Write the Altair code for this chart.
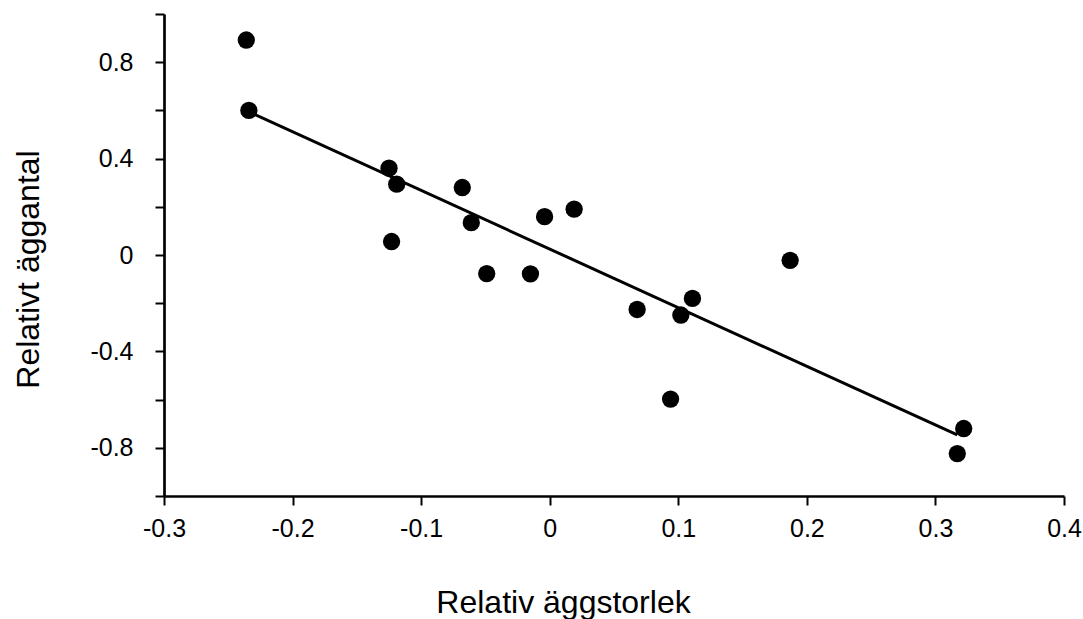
import altair as alt
import pandas as pd

# Relative egg size (x) and relative egg number (y)
rel_size = [-0.236, -0.234, -0.125, -0.119, -0.123, -0.068, -0.061, -0.049, -0.015,
            -0.004, 0.019, 0.068, 0.102, 0.111, 0.094, 0.187, 0.322, 0.317]
rel_count = [0.892, 0.600, 0.360, 0.294, 0.056, 0.280, 0.134, -0.077, -0.078,
             0.159, 0.190, -0.226, -0.249, -0.180, -0.598, -0.022, -0.720, -0.824]

x_ticks = [-0.3, -0.2, -0.1, 0.0, 0.1, 0.2, 0.3, 0.4]
y_ticks = [-1.0, -0.8, -0.6, -0.4, -0.2, 0.0, 0.2, 0.4, 0.6, 0.8, 1.0]
y_labelled = ["-0.8", "-0.4", "0", "0.4", "0.8"]
line_extent = [-0.234, 0.317]

df = pd.DataFrame({"x": rel_size, "y": rel_count})

FONT = "Liberation Sans"

x_enc = alt.X(
    "x:Q",
    scale=alt.Scale(domain=[-0.3, 0.4], nice=False, zero=False),
    axis=alt.Axis(
        values=x_ticks, format="~g", grid=False,
        labelExpr="replace(datum.label, '\u2212', '-')",
        title="Relativ äggstorlek", titleX=399, titleY=116,
        titleAlign="center", titleBaseline="alphabetic",
        titleFontSize=32, titleFontWeight="normal", titleFont=FONT, titleColor="black",
        labelFontSize=25, labelFont=FONT, labelColor="black", labelPadding=11,
        tickSize=9, tickWidth=2, tickColor="black",
        domainWidth=2.7, domainColor="black", labelFlush=False,
    ),
)
y_enc = alt.Y(
    "y:Q",
    scale=alt.Scale(domain=[-1.0, 1.0], nice=False, zero=False),
    axis=alt.Axis(
        values=y_ticks, format="~g", grid=False,
        labelExpr="indexof(" + str(y_labelled) + ", replace(datum.label, '\u2212', '-')) >= 0 ? replace(datum.label, '\u2212', '-') : ''",
        title="Relativt äggantal", titleX=-136, titleY=255, titleAngle=-90,
        titleAlign="center", titleBaseline="middle",
        titleFontSize=32, titleFontWeight="normal", titleFont=FONT, titleColor="black",
        labelFontSize=25, labelFont=FONT, labelColor="black", labelPadding=22,
        tickSize=9, tickWidth=2, tickColor="black",
        domainWidth=2.7, domainColor="black", labelFlush=False,
    ),
)

points = alt.Chart(df).mark_circle(size=300, color="black", opacity=1).encode(x=x_enc, y=y_enc)

line = alt.Chart(df).transform_regression(
    "x", "y", extent=line_extent
).mark_line(color="black", strokeWidth=3).encode(x="x:Q", y="y:Q")

chart = alt.layer(line, points).properties(
    width=900, height=482,
    autosize=alt.AutoSizeParams(type="none"),
    padding={"left": 164, "top": 14, "right": 19, "bottom": 123},
).configure_view(stroke=None)

chart.save("out.html", embed_options={"renderer": "svg", "actions": False})
